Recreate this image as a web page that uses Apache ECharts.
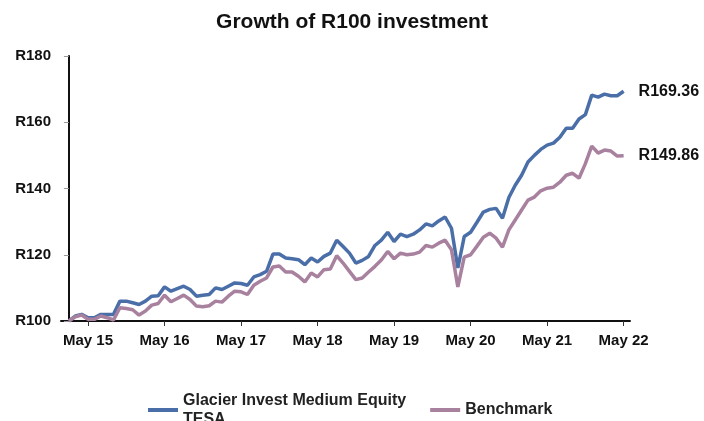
<!DOCTYPE html>
<html>
<head>
<meta charset="utf-8">
<script src="https://cdn.jsdelivr.net/npm/echarts@6/dist/echarts.min.js"></script>
<style>
  html, body { margin: 0; padding: 0; background: #fff; }
  #chart { width: 704px; height: 421px; }
</style>
</head>
<body>
<div id="chart"></div>
<script>
// monthly points, Feb 2015 (index 0) .. May 2022 (index 87)
const fundValues = [
  100, 101.5, 102, 101, 101, 102, 102, 102, 106, 106,
  105.5, 105, 106, 107.5, 107.6, 110.3, 109, 109.8, 110.5, 109.5,
  107.5, 107.8, 108, 110, 109.5, 110.5, 111.5, 111.3, 110.8, 113.3,
  114, 115, 120.2, 120.2, 119, 118.8, 118.5, 117, 119, 117.8,
  119.5, 120.5, 124.4, 122.5, 120.5, 117.5, 118.3, 119.5, 122.8, 124.4,
  126.8, 124, 126.2, 125.5, 126.2, 127.5, 129.3, 128.7, 130.2, 131.4,
  128, 116, 125.5, 126.8, 129.8, 132.9, 133.7, 134, 131, 137.3,
  141, 144, 148, 150, 151.8, 153.1, 153.7, 155.5, 158.2, 158.2,
  161, 162.3, 168.2, 167.6, 168.5, 168, 168, 169.36
];
const benchValues = [
  100, 101.3, 101.8, 100.5, 100.5, 101.5, 101, 100.3, 104, 103.8,
  103.4, 101.8, 103, 104.8, 105.3, 107.8, 105.8, 106.8, 107.8, 106.5,
  104.5, 104.3, 104.6, 106, 105.7, 107.5, 109, 108.8, 108, 110.8,
  112, 113, 116.3, 116.6, 114.8, 114.8, 113.5, 111.8, 114.5, 113.3,
  115.5, 115.7, 119.7, 117.5, 115, 112.5, 113, 114.8, 116.5, 118.4,
  121, 118.8, 120.5, 120, 120.2, 120.8, 122.8, 122.3, 123.5, 124.4,
  121.5, 110.3, 119.3, 120, 122.6, 125.3, 126.5, 125, 122.3, 127.5,
  130.5, 133.5, 136.5, 137.4, 139.3, 140.1, 140.4, 141.9, 144, 144.6,
  143.1, 147.5, 152.8, 150.7, 151.6, 151.3, 149.8, 149.86
];
const tickPositions = [3, 15, 27, 39, 51, 63, 75, 87];
const tickLabels = ['May 15', 'May 16', 'May 17', 'May 18', 'May 19', 'May 20', 'May 21', 'May 22'];
const seriesNames = ['Glacier Invest Medium Equity\nTESA', 'Benchmark'];

const chart = echarts.init(document.getElementById('chart'));
const font = 'Liberation Sans, Arial, sans-serif';

function toPairs(arr) {
  return arr.map(function (v, i) { return [i, v]; });
}

const option = {
  animation: false,
  title: {
    text: 'Growth of R100 investment',
    left: 'center',
    top: 7,
    textStyle: { fontFamily: font, fontSize: 21, fontWeight: 'bold', color: '#111' }
  },
  grid: { left: 61, right: 74, top: 56, bottom: 100 },
  legend: {
    left: 143,
    top: 386,
    icon: 'rect',
    itemWidth: 30,
    itemHeight: 4,
    itemGap: 24,
    textStyle: { fontFamily: font, fontSize: 16, fontWeight: 'bold', color: '#222', lineHeight: 19 },
    data: seriesNames
  },
  xAxis: {
    type: 'value',
    min: -1.24,
    max: 88,
    splitLine: { show: false },
    axisLine: { show: true, lineStyle: { color: '#111', width: 2 } },
    axisTick: { show: true, customValues: tickPositions, length: 5, lineStyle: { color: '#333' } },
    axisLabel: {
      customValues: tickPositions,
      formatter: function (v) { return tickLabels[tickPositions.indexOf(v)] || ''; },
      fontFamily: font, fontSize: 15, fontWeight: 'bold', color: '#111', margin: 12
    }
  },
  yAxis: {
    type: 'value',
    min: 100,
    max: 180,
    interval: 20,
    splitLine: { show: false },
    axisLine: { show: true, lineStyle: { color: '#111', width: 2 } },
    axisTick: { show: true, length: 5, lineStyle: { color: '#999' } },
    axisLabel: {
      formatter: 'R{value}',
      fontFamily: font, fontSize: 15, fontWeight: 'bold', color: '#111', margin: 10
    }
  },
  series: [
    {
      name: seriesNames[0],
      type: 'line',
      symbol: 'none',
      data: toPairs(fundValues),
      lineStyle: { color: '#4a6ea8', width: 3.5 },
      itemStyle: { color: '#4a6ea8' },
      endLabel: {
        show: true,
        distance: 15,
        formatter: function (p) { return 'R' + p.value[1].toFixed(2); },
        fontFamily: font, fontSize: 16, fontWeight: 'bold', color: '#111'
      }
    },
    {
      name: seriesNames[1],
      type: 'line',
      symbol: 'none',
      data: toPairs(benchValues),
      lineStyle: { color: '#a8819f', width: 3.5 },
      itemStyle: { color: '#a8819f' },
      endLabel: {
        show: true,
        distance: 15,
        formatter: function (p) { return 'R' + p.value[1].toFixed(2); },
        fontFamily: font, fontSize: 16, fontWeight: 'bold', color: '#111'
      }
    }
  ]
};
chart.setOption(option);
</script>
</body>
</html>
